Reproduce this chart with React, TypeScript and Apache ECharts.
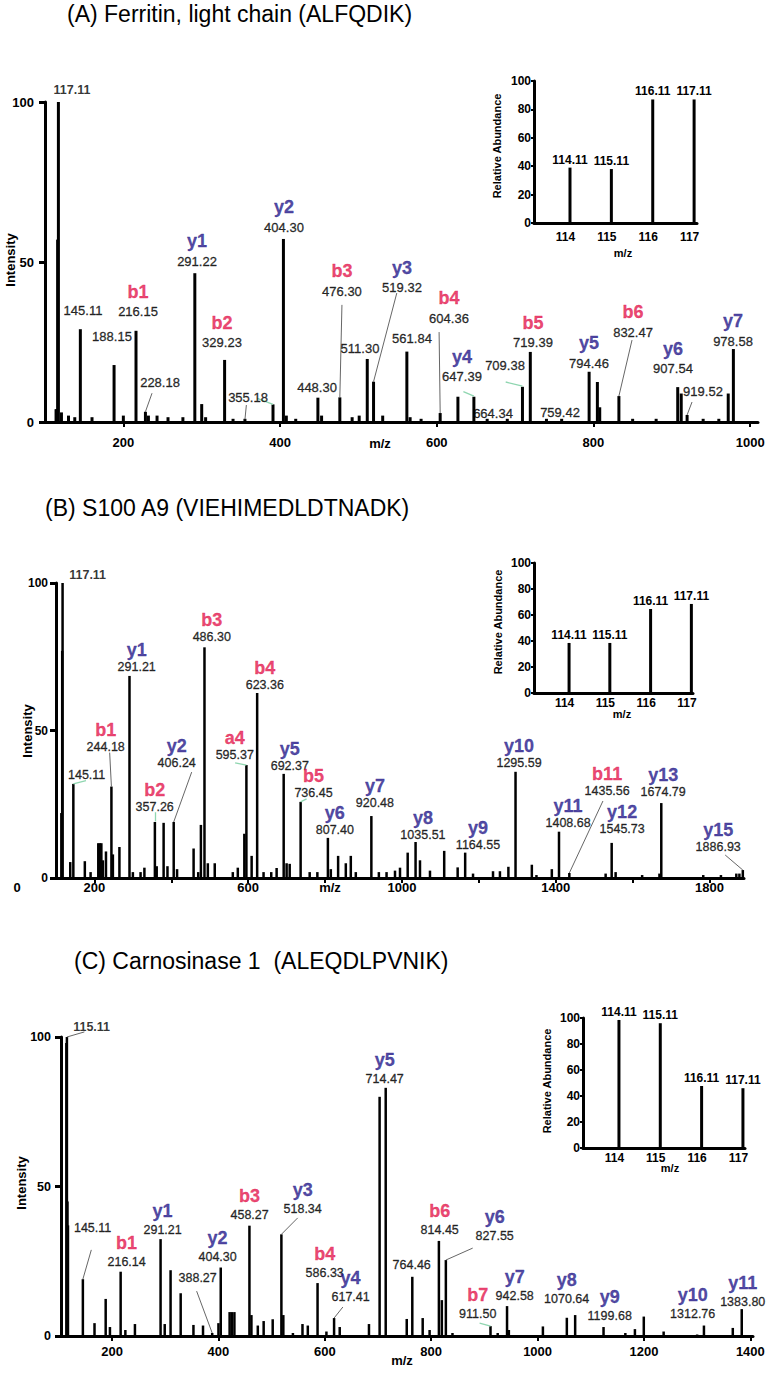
import React, { useEffect, useRef } from "react";
import * as echarts from "echarts";

type Ann = { ion?: string; mz: string; x: number; y: number; bold?: boolean };
type Lead = { from: [number, number]; to: [number, number]; green?: boolean };

// ---------- shared ----------
const reporterMz = [114.11, 115.11, 116.11, 117.11];
const reporterTicks = [114, 115, 116, 117];

// ---------- Panel A ----------
const titleA = "(A) Ferritin, light chain (ALFQDIK)";
const peaksA: [number, number][] = [
  [114.11, 4], [115.11, 4], [116.11, 57], [117.11, 100], [121, 3], [130, 2], [138, 1.5],
  [145.11, 29], [160, 1.5], [188.15, 17.8], [200, 2], [216.15, 28.5], [228.18, 3.2], [232, 2],
  [243, 2], [257, 1.5], [276, 1.5], [291.22, 46.5], [300, 5.6], [305, 1.5], [329.23, 19.4],
  [340, 1], [355.18, 1], [391, 5.5], [404.3, 57.2], [408, 2], [420, 1], [448.3, 7.6], [453, 2],
  [476.3, 7.7], [492, 1.5], [501, 2], [511.3, 19.7], [519.32, 12.6], [531, 2], [561.84, 22],
  [566, 1.5], [580, 1], [604.36, 2.8], [627, 7.9], [647.39, 7.9], [664.34, 1], [690, 1],
  [709.38, 11], [719.39, 21.9], [740, 1], [759.42, 1], [794.46, 15.7], [805, 12.5], [808, 4.6],
  [832.47, 8.1], [850, 1], [880, 1], [907.54, 10.9], [912, 8.9], [919.52, 2.2], [940, 1],
  [960, 1], [972, 8.9], [978.58, 22.8],
];
const annA: Ann[] = [
  { mz: "117.11", x: 134.5, y: 103.7, bold: true },
  { mz: "145.11", x: 148.5, y: 34.7 },
  { ion: "b1", mz: "216.15", x: 218.7, y: 34.4 },
  { mz: "188.15", x: 185.5, y: 26.6 },
  { mz: "228.18", x: 246.8, y: 12.5 },
  { ion: "y1", mz: "291.22", x: 294, y: 50.3 },
  { ion: "b2", mz: "329.23", x: 325.9, y: 24.7 },
  { mz: "355.18", x: 359.1, y: 7.8 },
  { ion: "y2", mz: "404.30", x: 405, y: 60.9 },
  { mz: "448.30", x: 447.2, y: 10.9 },
  { ion: "b3", mz: "476.30", x: 479, y: 40.9 },
  { mz: "511.30", x: 502, y: 23.1 },
  { ion: "y3", mz: "519.32", x: 555.6, y: 41.9 },
  { mz: "561.84", x: 568.4, y: 26.25 },
  { ion: "b4", mz: "604.36", x: 615.6, y: 32.5 },
  { ion: "y4", mz: "647.39", x: 632.2, y: 14.1 },
  { mz: "664.34", x: 671.8, y: 2.8 },
  { mz: "709.38", x: 687.1, y: 17.8 },
  { ion: "b5", mz: "719.39", x: 722.8, y: 24.7 },
  { mz: "759.42", x: 757.3, y: 3.1 },
  { ion: "y5", mz: "794.46", x: 794.3, y: 18.4 },
  { ion: "b6", mz: "832.47", x: 850.5, y: 28.1 },
  { ion: "y6", mz: "907.54", x: 901.5, y: 16.6 },
  { mz: "919.52", x: 939.8, y: 9.4 },
  { ion: "y7", mz: "978.58", x: 978.1, y: 25.3 },
];
const leadA: Lead[] = [
  { from: [236.6, 9.0], to: [228.18, 3.2] },
  { from: [357, 5.3], to: [355.18, 0.8] },
  { from: [371, 7.4], to: [391, 5.5], green: true },
  { from: [479, 36.6], to: [476.3, 7.7] },
  { from: [549, 40.3], to: [519.32, 12.6] },
  { from: [603, 28.1], to: [604.36, 2.8] },
  { from: [634, 9.5], to: [647.39, 8.1], green: true },
  { from: [688, 12.5], to: [709.38, 11.2], green: true },
  { from: [849.2, 25.6], to: [832.47, 8.1] },
  { from: [925.8, 6.25], to: [919.52, 2.2] },
];
const insetA = [39, 38, 87, 87];

// ---------- Panel B ----------
const titleB = "(B) S100 A9 (VIEHIMEDLDTNADK)";
const peaksB: [number, number][] = [
  [114.11, 22], [115.11, 22], [116.11, 77], [117.11, 100], [137, 5.4], [145.11, 31.9], [175, 5.7],
  [190, 2], [210, 11.8], [214, 11.8], [218, 11.8], [222, 6], [230, 9], [244.18, 31], [248, 8],
  [265, 10.5], [291.21, 68.5], [300, 2], [320, 2], [330, 3.5], [357.26, 19], [362, 4], [380, 18.7],
  [390, 4], [406.24, 19], [415, 3], [458, 10], [470, 2], [477, 18], [486.3, 78.2], [495, 5],
  [513, 5], [560, 2], [573, 3.5], [590, 15], [595.37, 38.3], [609, 7.5], [623.36, 62.7], [640, 2],
  [660, 2], [674, 3.4], [692.37, 35.3], [700, 5], [708, 4.8], [736.45, 25.8], [760, 2], [780, 2],
  [807.4, 13.6], [815, 3], [834, 7.5], [854, 5], [867, 7.5], [880, 2], [920.48, 21], [940, 2],
  [960, 2], [982, 2.5], [995, 3.5], [1015, 8.6], [1035.51, 12.2], [1047, 6], [1073, 2.5],
  [1110, 9.2], [1145, 3.6], [1164.55, 8.6], [1185, 1.5], [1237, 2.3], [1255, 2.3], [1277, 3.8],
  [1295.59, 36], [1338, 4.5], [1350, 1], [1390, 3], [1408.68, 15.7], [1435.56, 1.7], [1530, 1.5],
  [1545.73, 11.9], [1556, 2], [1625, 1], [1670, 1.5], [1674.79, 25.4], [1784, 1], [1830, 1],
  [1870, 1.5], [1878, 1.5], [1886.93, 2.7],
];
const annB: Ann[] = [
  { mz: "117.11", x: 182.3, y: 102.7, bold: true },
  { mz: "145.11", x: 179.7, y: 34.9 },
  { ion: "b1", mz: "244.18", x: 229.2, y: 44.4 },
  { ion: "y1", mz: "291.21", x: 309.9, y: 71.5 },
  { ion: "b2", mz: "357.26", x: 356.8, y: 24.1 },
  { ion: "y2", mz: "406.24", x: 414, y: 39 },
  { ion: "b3", mz: "486.30", x: 505.2, y: 81.7 },
  { ion: "a4", mz: "595.37", x: 565.1, y: 41.7 },
  { ion: "b4", mz: "623.36", x: 643.2, y: 65.4 },
  { ion: "y5", mz: "692.37", x: 708.3, y: 38 },
  { ion: "b5", mz: "736.45", x: 770, y: 28.8 },
  { ion: "y6", mz: "807.40", x: 825.5, y: 16.3 },
  { ion: "y7", mz: "920.48", x: 929.7, y: 25.4 },
  { ion: "y8", mz: "1035.51", x: 1054.7, y: 14.6 },
  { ion: "y9", mz: "1164.55", x: 1197.9, y: 11.2 },
  { ion: "y10", mz: "1295.59", x: 1304.7, y: 39 },
  { ion: "y11", mz: "1408.68", x: 1432.3, y: 18.6 },
  { ion: "b11", mz: "1435.56", x: 1533.9, y: 29.5 },
  { ion: "y12", mz: "1545.73", x: 1572.9, y: 16.6 },
  { ion: "y13", mz: "1674.79", x: 1679.7, y: 29.2 },
  { ion: "y15", mz: "1886.93", x: 1822.9, y: 10.5 },
];
const leadB: Lead[] = [
  { from: [178, 33], to: [145.11, 31.9], green: true },
  { from: [239.6, 42.5], to: [244.18, 31] },
  { from: [357, 22.3], to: [357.26, 19.2], green: true },
  { from: [453, 35.9], to: [406.24, 19] },
  { from: [566, 39], to: [595.37, 38.3], green: true },
  { from: [752, 26.8], to: [736.45, 25.8], green: true },
  { from: [1523, 26.1], to: [1435.56, 1.7] },
  { from: [1841, 7.8], to: [1886.93, 2.7] },
];
const insetB = [38.5, 38.5, 64.6, 68.5];

// ---------- Panel C ----------
const titleC = "(C) Carnosinase 1  (ALEQDLPVNIK)";
const peaksC: [number, number][] = [
  [114.11, 98], [115.11, 100], [116.11, 45], [117.11, 37], [145.11, 19], [167, 4.3], [188, 12.4],
  [196, 3], [216.14, 21.5], [225, 2], [243, 4], [291.21, 32.4], [299, 4], [310, 22], [329, 14.3],
  [353, 3.7], [371, 3.5], [388.27, 1], [400, 4.3], [404.3, 22.9], [421, 8], [425, 8], [430, 8],
  [458.27, 36.9], [462, 7], [474, 3.5], [485, 5], [502, 5.6], [518.34, 34], [522, 7], [540, 1],
  [558, 4], [568, 3.5], [586.33, 17.7], [603, 1.5], [617.41, 6], [628, 3], [683, 4], [703, 80],
  [714.47, 83], [754, 5.7], [764.46, 19.8], [784, 6], [797, 2], [814.45, 31.8], [820, 12],
  [827.55, 25.4], [840, 1], [911.5, 3.3], [925, 1], [942.58, 10], [946, 2], [1010, 3.2],
  [1055, 6.1], [1070.64, 7], [1124, 3], [1165, 1], [1183, 2.3], [1199.68, 6.5], [1237, 1.5],
  [1300, 0.5], [1312.76, 3.5], [1367, 2.7], [1383.8, 9],
];
const annC: Ann[] = [
  { mz: "115.11", x: 161.5, y: 103.3, bold: true },
  { mz: "145.11", x: 163.4, y: 36.1 },
  { ion: "b1", mz: "216.14", x: 227.3, y: 24.7 },
  { ion: "y1", mz: "291.21", x: 295, y: 35.5 },
  { ion: "y2", mz: "404.30", x: 398.4, y: 26.4 },
  { mz: "388.27", x: 360.9, y: 19.4 },
  { ion: "b3", mz: "458.27", x: 458.6, y: 40.5 },
  { ion: "y3", mz: "518.34", x: 558.3, y: 42.5 },
  { ion: "b4", mz: "586.33", x: 599.7, y: 21.1 },
  { ion: "y4", mz: "617.41", x: 648.5, y: 13 },
  { ion: "y5", mz: "714.47", x: 712.5, y: 86 },
  { mz: "764.46", x: 763.3, y: 23.7 },
  { ion: "b6", mz: "814.45", x: 815.9, y: 35.5 },
  { ion: "y6", mz: "827.55", x: 919.3, y: 33.4 },
  { ion: "b7", mz: "911.50", x: 887.4, y: 7.4 },
  { ion: "y7", mz: "942.58", x: 956.9, y: 13.4 },
  { ion: "y8", mz: "1070.64", x: 1054.7, y: 12.4 },
  { ion: "y9", mz: "1199.68", x: 1135.6, y: 6.7 },
  { ion: "y10", mz: "1312.76", x: 1291.6, y: 7.4 },
  { ion: "y11", mz: "1383.80", x: 1385.7, y: 11.4 },
];
const leadC: Lead[] = [
  { from: [115.11, 100], to: [148, 101.7] },
  { from: [161, 28.8], to: [145.11, 19] },
  { from: [359, 15], to: [388.27, 1] },
  { from: [549, 39.5], to: [518.34, 34] },
  { from: [634, 9.7], to: [617.41, 6] },
  { from: [878, 29.4], to: [827.55, 25.4] },
  { from: [891, 4.3], to: [911.5, 3.3], green: true },
];
const insetC = [98.5, 96, 47.7, 46];

// ---------- styling / layout ----------
const FONT = '"Liberation Sans", Arial, Helvetica, sans-serif';
const B_COLOR = "#e3164d";
const Y_COLOR = "#24188a";
const GREEN = "#8fd6b0";
const GRAY = "#555555";

const panels = [
  {
    title: titleA, peaks: peaksA, ann: annA, leaders: leadA, inset: insetA,
    titlePos: [67, 14],
    grid: { left: 45, top: 102, width: 713, height: 320 }, xr: [100, 1010],
    labels: [200, 400, 600, 800, 1000], ticks: [200, 400, 600, 800, 1000],
    labelMargin: 14, yLabelMargin: 11, yFont: 13, barWidth: 3, ionDy: -20, mzFont: 13,
    intensityPos: [10, 260], mzPos: [380, 443],
    insetGrid: { left: 534, top: 81, width: 163, height: 142 }, insetX: [113.24, 117.18],
    insetMargin: 8, relPos: [497, 146], insetMzPos: [623, 253],
  },
  {
    title: titleB, peaks: peaksB, ann: annB, leaders: leadB, inset: insetB,
    titlePos: [45, 508],
    grid: { left: 56, top: 583, width: 688, height: 295 }, xr: [100, 1890],
    labels: [200, 600, 1000, 1400, 1800], ticks: [200, 400, 600, 800, 1000, 1200, 1400, 1600, 1800],
    labelMargin: 3, yLabelMargin: 8, yFont: 12, barWidth: 2.5, ionDy: -17, mzFont: 12.5,
    intensityPos: [27, 731], mzPos: [330, 887],
    insetGrid: { left: 534, top: 563, width: 159, height: 130 }, insetX: [113.25, 117.15],
    insetMargin: 4, relPos: [498, 622], insetMzPos: [622, 714],
  },
  {
    title: titleC, peaks: peaksC, ann: annC, leaders: leadC, inset: insetC,
    titlePos: [74, 961],
    grid: { left: 61, top: 1037, width: 692, height: 299 }, xr: [104, 1405],
    labels: [200, 400, 600, 800, 1000, 1200, 1400], ticks: [200, 400, 600, 800, 1000, 1200, 1400],
    labelMargin: 9, yLabelMargin: 10, yFont: 12.5, barWidth: 2.5, ionDy: -19, mzFont: 12.5,
    intensityPos: [21, 1183], mzPos: [402, 1360],
    insetGrid: { left: 583, top: 1018, width: 162, height: 130 }, insetX: [113.24, 117.16],
    insetMargin: 4, relPos: [547, 1081], insetMzPos: [670, 1168],
  },
];

function ionColor(ion: string) {
  return ion.startsWith("y") ? Y_COLOR : B_COLOR;
}

function txt(text: string, x: number, y: number, size: number, weight: string, extra: any = {}) {
  const { align, ...rest } = extra;
  return {
    type: "text", x, y, silent: true, ...rest,
    style: {
      text, fill: "#000", font: `${weight} ${size}px ${FONT}`,
      textAlign: align || "center", textVerticalAlign: "middle",
    },
  };
}

const plain = (v: number) => String(v);

function buildOption() {
  const grid: any[] = [];
  const xAxis: any[] = [];
  const yAxis: any[] = [];
  const series: any[] = [];
  const graphic: any[] = [];

  panels.forEach((p) => {
    const g = grid.length;
    grid.push({ ...p.grid, containLabel: false });
    xAxis.push({
      type: "value", gridIndex: g, min: p.xr[0], max: p.xr[1],
      axisLine: { show: true, onZero: false, lineStyle: { color: "#000", width: 3 } },
      axisTick: { show: true, customValues: p.ticks, length: 5, lineStyle: { color: "#000", width: 2 } },
      axisLabel: {
        customValues: p.labels, margin: p.labelMargin, fontSize: 13, fontWeight: "bold",
        color: "#000", fontFamily: FONT, formatter: plain,
      },
      splitLine: { show: false },
    });
    yAxis.push({
      type: "value", gridIndex: g, min: 0, max: 100, interval: 50,
      axisLine: { show: true, onZero: false, lineStyle: { color: "#000", width: 3 } },
      axisTick: { show: true, length: 6, lineStyle: { color: "#000", width: 3 } },
      axisLabel: { margin: p.yLabelMargin, fontSize: p.yFont, fontWeight: "bold", color: "#000", fontFamily: FONT },
      splitLine: { show: false },
    });
    series.push({
      type: "bar", xAxisIndex: g, yAxisIndex: g, data: p.peaks, barWidth: p.barWidth,
      itemStyle: { color: "#000" }, silent: true, z: 2,
    });
    series.push({
      type: "lines", coordinateSystem: "cartesian2d", xAxisIndex: g, yAxisIndex: g, silent: true, z: 3,
      clip: false,
      lineStyle: { width: 1, opacity: 1 },
      data: p.leaders.map((l) => ({
        coords: [l.from, l.to],
        lineStyle: { color: l.green ? GREEN : GRAY, width: l.green ? 1.3 : 0.9 },
      })),
    });
    series.push({
      type: "scatter", xAxisIndex: g, yAxisIndex: g, symbolSize: 1, clip: false, silent: true, z: 4,
      itemStyle: { color: "rgba(0,0,0,0)" },
      data: p.ann.map((a) => ({
        value: [a.x, a.y],
        label: {
          show: true, position: "inside", formatter: a.mz, align: "center", verticalAlign: "middle",
          fontSize: a.bold ? 12.5 : p.mzFont, fontWeight: a.bold ? "bold" : "normal",
          color: "#000", fontFamily: FONT,
          textBorderColor: "#000", textBorderWidth: a.bold ? 0 : 0.35,
        },
      })),
    });
    series.push({
      type: "scatter", xAxisIndex: g, yAxisIndex: g, symbolSize: 1, clip: false, silent: true, z: 4,
      itemStyle: { color: "rgba(0,0,0,0)" },
      data: p.ann.filter((a) => a.ion).map((a) => ({
        value: [a.x, a.y],
        label: {
          show: true, position: "inside", offset: [0, p.ionDy], formatter: a.ion as string,
          align: "center", verticalAlign: "middle",
          textBorderColor: ionColor(a.ion as string), textBorderWidth: 0.3,
          fontSize: 18, fontWeight: "bold", color: ionColor(a.ion as string), fontFamily: FONT,
        },
      })),
    });

    // inset
    const h = grid.length;
    grid.push({ ...p.insetGrid, containLabel: false });
    xAxis.push({
      type: "value", gridIndex: h, min: p.insetX[0], max: p.insetX[1],
      axisLine: { show: true, onZero: false, lineStyle: { color: "#000", width: 3 } },
      axisTick: { show: false },
      axisLabel: {
        customValues: reporterTicks, margin: p.insetMargin, fontSize: 12, fontWeight: "bold",
        color: "#000", fontFamily: FONT, formatter: plain,
      },
      splitLine: { show: false },
    });
    yAxis.push({
      type: "value", gridIndex: h, min: 0, max: 100, interval: 20,
      axisLine: { show: true, onZero: false, lineStyle: { color: "#000", width: 3 } },
      axisTick: { show: true, length: 3, lineStyle: { color: "#000", width: 2 } },
      axisLabel: { margin: 3, fontSize: 12, fontWeight: "bold", color: "#000", fontFamily: FONT },
      splitLine: { show: false },
    });
    series.push({
      type: "bar", xAxisIndex: h, yAxisIndex: h, barWidth: 3, silent: true,
      itemStyle: { color: "#000" },
      data: reporterMz.map((m, i) => [m, p.inset[i]]),
      label: {
        show: true, position: "top", distance: 2, fontSize: 12, fontWeight: "bold",
        color: "#000", fontFamily: FONT,
        formatter: (q: any) => reporterMz[q.dataIndex].toFixed(2),
      },
    });

    graphic.push(txt(p.title, p.titlePos[0], p.titlePos[1], 23, "normal", { align: "left" }));
    graphic.push(txt("Intensity", p.intensityPos[0], p.intensityPos[1], 13, "bold", { rotation: Math.PI / 2 }));
    graphic.push(txt("m/z", p.mzPos[0], p.mzPos[1], 13, "bold"));
    graphic.push(txt("Relative Abundance", p.relPos[0], p.relPos[1], 11, "bold", { rotation: Math.PI / 2 }));
    graphic.push(txt("m/z", p.insetMzPos[0], p.insetMzPos[1], 11, "bold"));
  });
  graphic.push(txt("0", 17, 887, 13, "bold"));

  return {
    animation: false,
    backgroundColor: "#ffffff",
    textStyle: { fontFamily: FONT },
    grid, xAxis, yAxis, series, graphic,
  };
}

export default function App() {
  const ref = useRef<HTMLDivElement>(null);
  useEffect(() => {
    const chart = echarts.init(ref.current as HTMLDivElement, undefined, { renderer: "svg" });
    chart.setOption(buildOption() as any);
    return () => chart.dispose();
  }, []);
  return (
    <div
      ref={ref}
      style={{ position: "absolute", left: 0, top: 0, width: 773, height: 1392, background: "#fff" }}
    />
  );
}
